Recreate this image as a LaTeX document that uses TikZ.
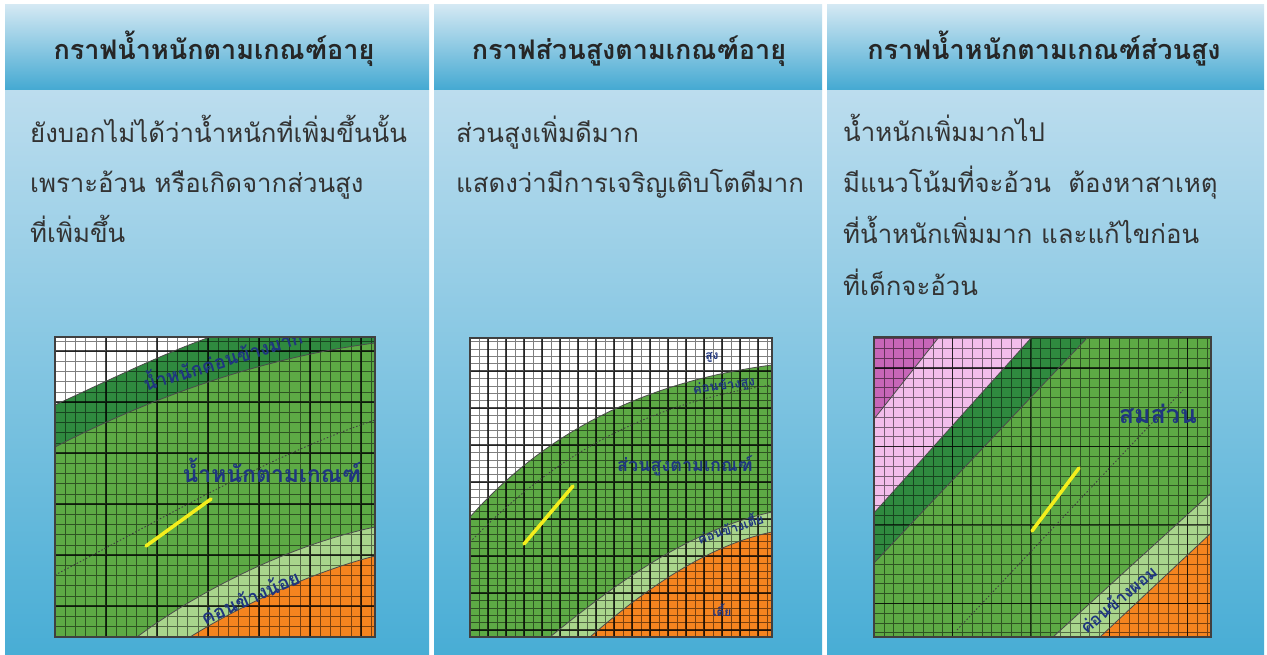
\documentclass[tikz,border=0pt]{standalone}
\usepackage{fontspec}
\newfontfamily\thaifont[Script=Thai]{Loma}
\usetikzlibrary{positioning}

\definecolor{headtop}{HTML}{D3E8F3}
\definecolor{headbot}{HTML}{44A9D2}
\definecolor{bodytop}{HTML}{BCDDEE}
\definecolor{bodybot}{HTML}{48ADD5}
\definecolor{darkgreen}{HTML}{2F8A3F}
\definecolor{midgreen}{HTML}{5DAA45}
\definecolor{lightgreen}{HTML}{A9D58C}
\definecolor{chartorange}{HTML}{F5841F}
\definecolor{lightpink}{HTML}{F2BDEB}
\definecolor{darkpink}{HTML}{C766B8}
\definecolor{labelblue}{HTML}{1F3580}
\definecolor{markyellow}{HTML}{F4EE1C}

\tikzset{
  header/.style={top color=headtop, bottom color=headbot},
  panelbody/.style={top color=bodytop, bottom color=bodybot},
  headtext/.style={font=\thaifont\bfseries\fontsize{27}{30}\selectfont, text=black!85, anchor=base, inner sep=0},
  bodytext/.style={font=\thaifont\fontsize{25.8}{30}\selectfont, text=black!80, anchor=base west, inner sep=0},
  finegrid/.style={draw=black, opacity=.5, line width=.55pt},
  majorgrid/.style={draw=black, opacity=.7, line width=1.1pt},
  bandedge/.style={draw=black!70, line width=.8pt},
  medianline/.style={draw=black!75, dash pattern=on 1.5pt off 2pt, line width=.9pt},
  yellowmark/.style={draw=markyellow, line width=3.5pt, line cap=round},
  chartlabel/.style={font=\thaifont\bfseries\fontsize{#1}{#1}\selectfont, text=labelblue, inner sep=0},
  chartlabel/.default=14,
  chartframe/.style={draw=black!75, line width=1.5pt}
}

\begin{document}
\begin{tikzpicture}[x=1pt, y=-1pt]
	\useasboundingbox (0,0) rectangle (1267,655);
	\fill[white] (0,0) rectangle (1267,655);
	% panels
	\shade[panelbody] (5,90) rectangle (429,655);
	\shade[panelbody] (434,90) rectangle (822,655);
	\shade[panelbody] (827,90) rectangle (1264,655);
	\shade[header] (5,5) rectangle (429,90);
	\shade[header] (434,5) rectangle (822,90);
	\shade[header] (827,5) rectangle (1264,90);
	\node (head1) [headtext] at (214,60) {กราฟน้ำหนักตามเกณฑ์อายุ};
	\node (head2) [headtext] at (629,60) {กราฟส่วนสูงตามเกณฑ์อายุ};
	\node (head3) [headtext] at (1044,60) {กราฟน้ำหนักตามเกณฑ์ส่วนสูง};
	% texts
	\node (txtA1) [bodytext] at (30,143) {ยังบอกไม่ได้ว่าน้ำหนักที่เพิ่มขึ้นนั้น};
	\node (txtA2) [bodytext] at (30,193) {เพราะอ้วน หรือเกิดจากส่วนสูง};
	\node (txtA3) [bodytext] at (30,243) {ที่เพิ่มขึ้น};
	\node (txtB1) [bodytext] at (456,143) {ส่วนสูงเพิ่มดีมาก};
	\node (txtB2) [bodytext] at (456,193) {แสดงว่ามีการเจริญเติบโตดีมาก};
	\node (txtC1) [bodytext] at (843,142) {น้ำหนักเพิ่มมากไป};
	\node (txtC2) [bodytext] at (843,193) {มีแนวโน้มที่จะอ้วน\ \ ต้องหาสาเหตุ};
	\node (txtC3) [bodytext] at (843,244) {ที่น้ำหนักเพิ่มมาก และแก้ไขก่อน};
	\node (txtC4) [bodytext] at (843,295) {ที่เด็กจะอ้วน};
	% chart 1
	\begin{scope}
		\clip (55,337) rectangle (375,637);
		\fill[midgreen] (55,337) rectangle (375,637);
		\fill[white] (55,337) -- (55,405) .. controls (105,382) and (160,355) .. (210,337) -- cycle;
		\fill[darkgreen] (55,405) .. controls (105,382) and (160,355) .. (210,337) -- (375,337) -- (375,343) .. controls (260,358) and (150,398) .. (55,447) -- cycle;
		\fill[lightgreen] (137,637) .. controls (200,590) and (290,545) .. (375,527) -- (375,637) -- cycle;
		\fill[chartorange] (190,637) .. controls (250,600) and (320,570) .. (375,556) -- (375,637) -- cycle;
		\begin{scope}[shift={(55,453)}]
			\draw[finegrid] (0,-120) grid[step=10.2pt] (330,190);
			\draw[majorgrid] (0,-120) grid[step=51pt] (330,190);
		\end{scope}
		\draw[bandedge] (55,405) .. controls (105,382) and (160,355) .. (210,337);
		\draw[bandedge] (375,343) .. controls (260,358) and (150,398) .. (55,447);
		\draw[bandedge] (137,637) .. controls (200,590) and (290,545) .. (375,527);
		\draw[bandedge] (190,637) .. controls (250,600) and (320,570) .. (375,556);
		\draw[medianline] (55,575) .. controls (160,520) and (270,455) .. (375,420);
		\node (lblA1) [chartlabel=19, rotate=17] at (222,358) {น้ำหนักค่อนข้างมาก};
		\node (lblA2) [chartlabel=23] at (272,470) {น้ำหนักตามเกณฑ์};
		\node (lblA3) [chartlabel=19, rotate=24] at (250,597) {ค่อนข้างน้อย};
		\coordinate (markA1) at (146,546);
		\coordinate (markA2) at (211,499);
		\draw[yellowmark] (markA1) -- (markA2);
	\end{scope}
	\draw[chartframe] (55,337) rectangle (375,637);
	% chart 2
	\begin{scope}
		\clip (470,338) rectangle (772,637);
		\fill[white] (470,338) rectangle (772,637);
		\fill[midgreen] (470,517) .. controls (530,450) and (620,385) .. (772,365) -- (772,637) -- (470,637) -- cycle;
		\fill[lightgreen] (550,637) .. controls (620,580) and (690,530) .. (772,512) -- (772,637) -- cycle;
		\fill[chartorange] (590,637) .. controls (650,585) and (710,545) .. (772,532) -- (772,637) -- cycle;
		\begin{scope}[shift={(470,371)}]
			\draw[finegrid] (0,-40) grid[xstep=9pt, ystep=7.4pt] (310,270);
			\draw[majorgrid] (0,-40) grid[xstep=18pt, ystep=37pt] (310,270);
		\end{scope}
		\draw[bandedge] (470,517) .. controls (530,450) and (620,385) .. (772,365);
		\draw[medianline] (470,542) .. controls (540,470) and (630,405) .. (772,385);
		\draw[bandedge] (550,637) .. controls (620,580) and (690,530) .. (772,512);
		\draw[bandedge] (590,637) .. controls (650,585) and (710,545) .. (772,532);
		\node (lblB1) [chartlabel=12] at (712,357) {สูง};
		\node (lblB2) [chartlabel=13, rotate=8] at (724,386) {ค่อนข้างสูง};
		\node (lblB3) [chartlabel=18] at (685,466) {ส่วนสูงตามเกณฑ์};
		\node (lblB4) [chartlabel=13, rotate=18] at (730,527) {ค่อนข้างเตี้ย};
		\node (lblB5) [chartlabel=12] at (722,610) {เตี้ย};
		\coordinate (markB1) at (524,544);
		\coordinate (markB2) at (573,486);
		\draw[yellowmark] (markB1) -- (markB2);
	\end{scope}
	\draw[chartframe] (470,338) rectangle (772,637);
	% chart 3
	\begin{scope}
		\clip (874,337) rectangle (1211,637);
		\fill[midgreen] (874,337) rectangle (1211,637);
		\fill[darkpink] (874,337) -- (939,337) -- (874,419) -- cycle;
		\fill[lightpink] (939,337) -- (1032,337) -- (874,513) -- (874,419) -- cycle;
		\fill[darkgreen] (1032,337) -- (1088,337) -- (874,563) -- (874,513) -- cycle;
		\fill[lightgreen] (1053,637) -- (1211,493) -- (1211,637) -- cycle;
		\fill[chartorange] (1100,637) -- (1211,533) -- (1211,637) -- cycle;
		\begin{scope}[shift={(874,368)}]
			\draw[finegrid] (0,-40) grid[step=9.8pt] (340,280);
			\draw[majorgrid] (0,-40) grid[step=78.4pt] (340,280);
		\end{scope}
		\draw[bandedge] (939,337) -- (874,419);
		\draw[bandedge] (1032,337) -- (874,513);
		\draw[bandedge] (1088,337) -- (874,563);
		\draw[bandedge] (1053,637) -- (1211,493);
		\draw[bandedge] (1100,637) -- (1211,533);
		\draw[medianline] (957,630) -- (1183,390);
		\node (lblC1) [chartlabel=25] at (1158,414) {สมส่วน};
		\node (lblC2) [chartlabel=17, rotate=40] at (1118,599) {ค่อนข้างผอม};
		\coordinate (markC1) at (1032,531);
		\coordinate (markC2) at (1079,468);
		\draw[yellowmark] (markC1) -- (markC2);
	\end{scope}
	\draw[chartframe] (874,337) rectangle (1211,637);
\end{tikzpicture}
\end{document}
